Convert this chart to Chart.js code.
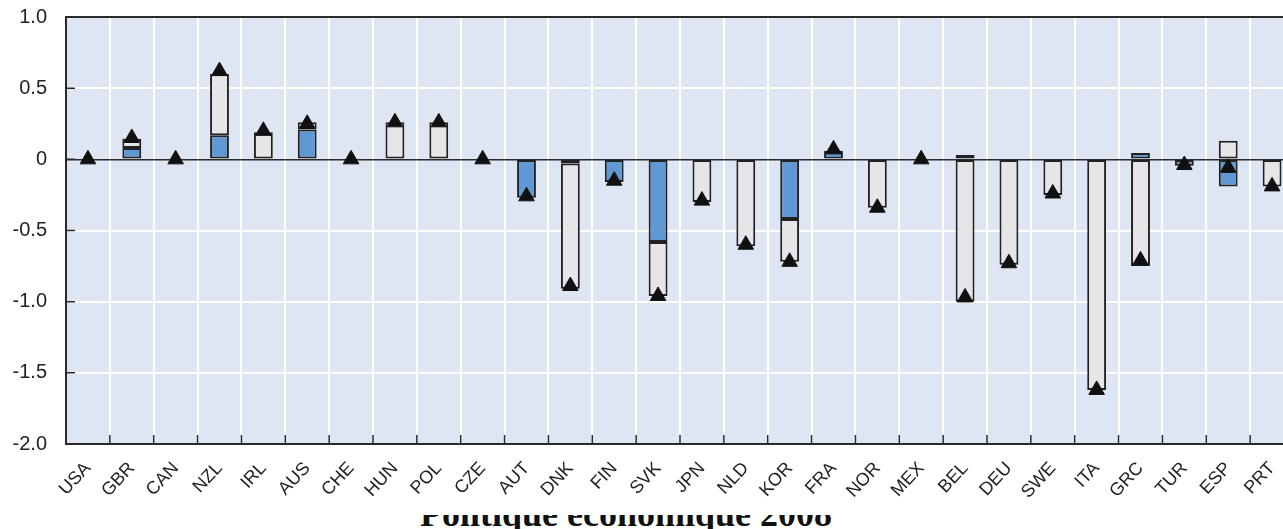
<!DOCTYPE html>
<html>
<head>
<meta charset="utf-8">
<script src="https://cdn.jsdelivr.net/npm/chart.js@4.4.1/dist/chart.umd.min.js"></script>
<style>
  html, body { margin: 0; padding: 0; background: #fff; overflow: hidden; width: 1283px; height: 529px; }
  #wrap { position: absolute; left: 0; top: 0; width: 1304px; height: 505px; }
  #chart { width: 1304px; height: 505px; }
  #caption {
    position: absolute; left: 0; top: 515px; width: 1252px; height: 14px; overflow: hidden;
  }
  #caption span {
    position: absolute; left: 0; width: 100%; top: -21px; text-align: center;
    font-family: "Liberation Serif", "Times New Roman", serif; font-weight: bold;
    font-size: 36px; line-height: 40px; color: #111; white-space: nowrap;
  }
</style>
</head>
<body>
<div id="wrap"><canvas id="chart" width="1304" height="505"></canvas></div>
<div id="caption"><span>Politique économique 2008</span></div>
<script>
// Chart data
const countries = ['USA', 'GBR', 'CAN', 'NZL', 'IRL', 'AUS', 'CHE', 'HUN', 'POL', 'CZE', 'AUT', 'DNK', 'FIN', 'SVK',
    'JPN', 'NLD', 'KOR', 'FRA', 'NOR', 'MEX', 'BEL', 'DEU', 'SWE', 'ITA', 'GRC', 'TUR', 'ESP', 'PRT'];
const blueValues = [null, 0.08, null, 0.17, null, 0.21, null, null, null, null, -0.27, -0.03, -0.16, -0.58,
    null, null, -0.42, 0.06, null, null, 0.03, null, null, null, 0.045, -0.045, -0.19, null];
const greyValues = [null, 0.065, null, 0.43, 0.19, 0.05, null, 0.26, 0.26, null, null, -0.88, null, -0.38,
    -0.30, -0.61, -0.30, null, -0.34, null, -1.00, -0.74, -0.25, -1.62, -0.75, null, 0.13, -0.19];
const totalValues = [0, 0.15, 0, 0.62, 0.2, 0.25, 0, 0.26, 0.26, 0, -0.26, -0.89, -0.15, -0.96,
    -0.29, -0.6, -0.72, 0.07, -0.34, 0, -0.97, -0.73, -0.24, -1.62, -0.71, -0.04, -0.06, -0.19];
const yTicks = [1.0, 0.5, 0, -0.5, -1.0, -1.5, -2.0];

const axisColor = '#2a2a2a';
const labelFont = '"Liberation Sans", Arial, sans-serif';

// Plot background, top border and inward tick marks
const framePlugin = {
    id: 'frame',
    beforeDraw(chart) {
        const a = chart.chartArea, ctx = chart.ctx;
        ctx.save();
        ctx.fillStyle = '#dfe6f3';
        ctx.fillRect(a.left, a.top, a.right - a.left, a.bottom - a.top);
        ctx.restore();
    },
    afterDraw(chart) {
        const a = chart.chartArea, ctx = chart.ctx;
        const x = chart.scales.x, y = chart.scales.y;
        ctx.save();
        ctx.strokeStyle = axisColor;
        ctx.lineWidth = 2;
        ctx.beginPath();
        ctx.moveTo(a.left - 1, a.top);
        ctx.lineTo(a.right, a.top);
        ctx.stroke();
        ctx.lineWidth = 1.5;
        ctx.beginPath();
        for (let i = 0; i < countries.length - 1; i++) {
            const px = (x.getPixelForTick(i) + x.getPixelForTick(i + 1)) / 2;
            ctx.moveTo(px, a.bottom);
            ctx.lineTo(px, a.bottom - 9);
        }
        yTicks.forEach(v => {
            const py = y.getPixelForValue(v);
            ctx.moveTo(a.left, py);
            ctx.lineTo(a.left + 9, py);
        });
        ctx.stroke();
        ctx.restore();
    }
};

const barStyle = {
    type: 'bar',
    stack: 'bars',
    borderColor: '#222',
    borderWidth: 2,
    borderSkipped: false,
    categoryPercentage: 1,
    barPercentage: 0.43
};

new Chart(document.getElementById('chart'), {
    data: {
        labels: countries,
        datasets: [
            {
                type: 'line',
                data: totalValues,
                stack: 'total',
                showLine: false,
                pointStyle: 'triangle',
                pointRadius: 9,
                pointBackgroundColor: '#111',
                pointBorderColor: '#111',
                pointBorderWidth: 1,
                order: 0
            },
            Object.assign({ data: blueValues, backgroundColor: '#5f98d2', order: 1 }, barStyle),
            Object.assign({ data: greyValues, backgroundColor: '#e6e6e8', order: 2 }, barStyle)
        ]
    },
    options: {
        responsive: false,
        animation: false,
        layout: { padding: { top: 17, right: 2, left: 0, bottom: 0 } },
        plugins: { legend: { display: false }, tooltip: { enabled: false } },
        scales: {
            x: {
                stacked: true,
                offset: true,
                afterFit: s => { s.height = 61; s.paddingLeft = 0; s.paddingRight = 0; },
                grid: { offset: true, color: '#ffffff', lineWidth: 2, drawTicks: false },
                border: { display: true, color: axisColor, width: 2 },
                ticks: {
                    maxRotation: 47, minRotation: 47, padding: 14, color: '#222',
                    font: { family: labelFont, size: 18 }
                }
            },
            y: {
                stacked: true,
                min: -2, max: 1,
                afterFit: s => { s.width = 66; s.paddingTop = 0; s.paddingBottom = 0; },
                afterBuildTicks: s => { s.ticks = yTicks.map(v => ({ value: v })); },
                grid: {
                    drawTicks: false,
                    color: c => (c.tick && c.tick.value === 0 ? axisColor : '#ffffff'),
                    lineWidth: c => (c.tick && c.tick.value === 0 ? 1.5 : 2)
                },
                border: { display: true, color: axisColor, width: 2 },
                ticks: {
                    padding: 19, color: '#222',
                    font: { family: labelFont, size: 20 },
                    callback: v => (v === 0 ? '0' : v.toFixed(1))
                }
            }
        }
    },
    plugins: [framePlugin]
});
</script>
</body>
</html>
